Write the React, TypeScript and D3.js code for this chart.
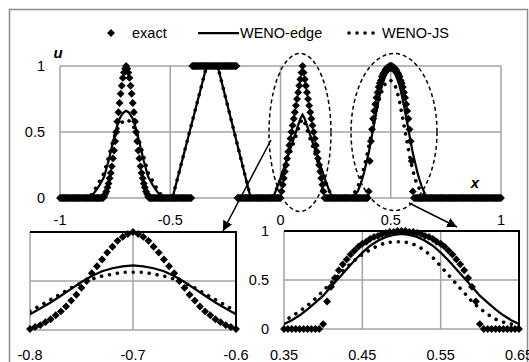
import * as d3 from "d3";

// exact solution, sampled every 0.005 from x = -1 to x = 1 (401 points)
const exactX0 = -1;
const exactStep = 0.005;
const exactU = [
  // -1 .. -0.805
  0, 0, 0, 0, 0, 0, 0, 0, 0, 0,
  0, 0, 0, 0, 0, 0, 0, 0, 0, 0,
  0, 0, 0, 0, 0, 0, 0, 0, 0, 0,
  0, 0, 0, 0, 0, 0, 0, 0, 0, 0,
  // gaussian -0.8 .. -0.6
  0.01, 0.03, 0.05, 0.08, 0.11, 0.15, 0.19, 0.24, 0.3, 0.36,
  0.43, 0.5, 0.58, 0.65, 0.72, 0.79, 0.85, 0.91, 0.95, 0.98,
  1,
  0.98, 0.95, 0.91, 0.85, 0.79, 0.72, 0.65, 0.58, 0.5, 0.43,
  0.36, 0.3, 0.24, 0.19, 0.15, 0.11, 0.08, 0.05, 0.03, 0.01,
  // -0.595 .. -0.405
  0, 0, 0, 0, 0, 0, 0, 0, 0, 0,
  0, 0, 0, 0, 0, 0, 0, 0, 0, 0,
  0, 0, 0, 0, 0, 0, 0, 0, 0, 0,
  0, 0, 0, 0, 0, 0, 0, 0, 0,
  // square -0.4 .. -0.2
  1, 1, 1, 1, 1, 1, 1, 1, 1, 1,
  1, 1, 1, 1, 1, 1, 1, 1, 1, 1,
  1,
  1, 1, 1, 1, 1, 1, 1, 1, 1, 1,
  1, 1, 1, 1, 1, 1, 1, 1, 1, 1,
  // -0.195 .. -0.005
  0, 0, 0, 0, 0, 0, 0, 0, 0, 0,
  0, 0, 0, 0, 0, 0, 0, 0, 0, 0,
  0, 0, 0, 0, 0, 0, 0, 0, 0, 0,
  0, 0, 0, 0, 0, 0, 0, 0, 0,
  // triangle 0 .. 0.2
  0, 0.05, 0.1, 0.15, 0.2, 0.25, 0.3, 0.35, 0.4, 0.45,
  0.5, 0.55, 0.6, 0.65, 0.7, 0.75, 0.8, 0.85, 0.9, 0.95,
  1,
  0.95, 0.9, 0.85, 0.8, 0.75, 0.7, 0.65, 0.6, 0.55, 0.5,
  0.45, 0.4, 0.35, 0.3, 0.25, 0.2, 0.15, 0.1, 0.05, 0,
  // 0.205 .. 0.395
  0, 0, 0, 0, 0, 0, 0, 0, 0, 0,
  0, 0, 0, 0, 0, 0, 0, 0, 0, 0,
  0, 0, 0, 0, 0, 0, 0, 0, 0, 0,
  0, 0, 0, 0, 0, 0, 0, 0, 0,
  // ellipse 0.4 .. 0.6
  0.05, 0.28, 0.43, 0.52, 0.6, 0.66, 0.71, 0.76, 0.8, 0.84,
  0.87, 0.89, 0.92, 0.94, 0.95, 0.97, 0.98, 0.99, 0.99, 1,
  1,
  1, 0.99, 0.99, 0.98, 0.97, 0.95, 0.94, 0.92, 0.89, 0.87,
  0.84, 0.8, 0.76, 0.71, 0.66, 0.6, 0.52, 0.43, 0.28, 0.05,
  // 0.605 .. 1
  0, 0, 0, 0, 0, 0, 0, 0, 0, 0,
  0, 0, 0, 0, 0, 0, 0, 0, 0, 0,
  0, 0, 0, 0, 0, 0, 0, 0, 0, 0,
  0, 0, 0, 0, 0, 0, 0, 0, 0, 0,
  0, 0, 0, 0, 0, 0, 0, 0, 0, 0,
  0, 0, 0, 0, 0, 0, 0, 0, 0, 0,
  0, 0, 0, 0, 0, 0, 0, 0, 0, 0,
  0, 0, 0, 0, 0, 0, 0, 0, 0, 0,
];

const wenoEdgeX = [
  -1, -0.88, -0.86, -0.84, -0.82, -0.8, -0.79, -0.78, -0.77, -0.76, -0.75, -0.74, -0.73, -0.72, -0.71,
  -0.7, -0.69, -0.68, -0.67, -0.66, -0.65, -0.64, -0.63, -0.62, -0.61, -0.6, -0.58, -0.56, -0.54, -0.52,
  -0.49, -0.335, -0.285, -0.135,
  -0.04, -0.03, -0.02, 0, 0.02, 0.04, 0.06, 0.08, 0.09, 0.1, 0.11, 0.12, 0.14, 0.16, 0.18, 0.2, 0.22, 0.23, 0.24,
  0.32, 0.33, 0.34, 0.35, 0.36, 0.37, 0.38, 0.39, 0.4, 0.41, 0.42, 0.43, 0.44, 0.45, 0.46, 0.47, 0.48, 0.49,
  0.5, 0.51, 0.52, 0.53, 0.54, 0.55, 0.56, 0.57, 0.58, 0.59, 0.6, 0.61, 0.62, 0.63, 0.64, 0.65, 0.66, 0.67, 1,
];
const wenoEdgeU = [
  0, 0, 0.01, 0.05, 0.1, 0.16, 0.22, 0.28, 0.35, 0.42, 0.49, 0.55, 0.6, 0.63, 0.65,
  0.66, 0.65, 0.63, 0.6, 0.55, 0.49, 0.42, 0.35, 0.28, 0.22, 0.16, 0.1, 0.05, 0.01, 0,
  0, 1, 1, 0,
  0, 0.02, 0.06, 0.15, 0.25, 0.35, 0.45, 0.55, 0.6, 0.63, 0.6, 0.55, 0.45, 0.35, 0.25, 0.15, 0.06, 0.02, 0,
  0, 0.01, 0.03, 0.05, 0.09, 0.14, 0.2, 0.27, 0.34, 0.43, 0.52, 0.61, 0.7, 0.78, 0.85, 0.9, 0.94, 0.96,
  0.97, 0.96, 0.94, 0.9, 0.85, 0.78, 0.7, 0.61, 0.52, 0.43, 0.34, 0.27, 0.2, 0.14, 0.09, 0.05, 0.01, 0, 0,
];

const wenoJsX = [
  -1, -0.88, -0.86, -0.84, -0.82, -0.8, -0.79, -0.78, -0.77, -0.76, -0.75, -0.74, -0.73, -0.72, -0.71,
  -0.7, -0.69, -0.68, -0.67, -0.66, -0.65, -0.64, -0.63, -0.62, -0.61, -0.6, -0.58, -0.56, -0.54, -0.52,
  -0.49, -0.335, -0.285, -0.135,
  -0.04, -0.03, -0.02, 0, 0.02, 0.04, 0.06, 0.08, 0.09, 0.1, 0.11, 0.12, 0.14, 0.16, 0.18, 0.2, 0.22, 0.23, 0.24,
  0.31, 0.32, 0.33, 0.34, 0.35, 0.36, 0.37, 0.38, 0.39, 0.4, 0.41, 0.42, 0.43, 0.44, 0.45, 0.46, 0.47, 0.48, 0.49,
  0.5, 0.51, 0.52, 0.53, 0.54, 0.55, 0.56, 0.57, 0.58, 0.59, 0.6, 0.61, 0.62, 0.63, 0.64, 0.65, 0.66, 0.67, 0.68, 1,
];
const wenoJsU = [
  0, 0, 0.02, 0.07, 0.13, 0.19, 0.25, 0.31, 0.37, 0.43, 0.48, 0.52, 0.55, 0.57, 0.59,
  0.59, 0.59, 0.57, 0.55, 0.52, 0.48, 0.43, 0.37, 0.31, 0.25, 0.19, 0.13, 0.07, 0.02, 0,
  0, 1, 1, 0,
  0, 0.02, 0.06, 0.14, 0.23, 0.32, 0.42, 0.52, 0.57, 0.6, 0.57, 0.52, 0.42, 0.32, 0.23, 0.14, 0.06, 0.02, 0,
  0, 0.01, 0.03, 0.05, 0.08, 0.13, 0.18, 0.24, 0.31, 0.39, 0.47, 0.55, 0.63, 0.7, 0.76, 0.81, 0.85, 0.88, 0.89,
  0.89, 0.88, 0.85, 0.8, 0.73, 0.64, 0.55, 0.46, 0.37, 0.28, 0.21, 0.15, 0.1, 0.07, 0.05, 0.03, 0.02, 0.01, 0, 0,
];

const mainXTicks = [-1, -0.5, 0, 0.5, 1];
const mainYTicks = [0, 0.5, 1];
const leftXTicks = [-0.8, -0.7, -0.6];
const rightXTicks = [0.35, 0.45, 0.55, 0.65];
const insetYTicks = [0, 0.5, 1];
const legendLabels = ["exact", "WENO-edge", "WENO-JS"];

const W = 529;
const H = 362;
const FONT = "'Liberation Sans', Arial, sans-serif";
const GRID = "#a3a3a3";

const diamondPath = d3.symbol().type(d3.symbolSquare).size(31)() as string;

type Scale = d3.ScaleLinear<number, number>;

function Panel({ id, x, y, xTicks, yTicks, showYLabels, xLabelDy, framed }: {
  id: string; x: Scale; y: Scale; xTicks: number[]; yTicks: number[];
  showYLabels: boolean; xLabelDy: number; framed: boolean;
}) {
  const [d0, d1] = x.domain();
  const [left, right] = x.range();
  const [bottom, top] = y.range();
  const eps = 1e-9;
  const exactPts = exactU
    .map((u, i) => ({ x: exactX0 + i * exactStep, u }))
    .filter((p) => p.x >= d0 - eps && p.x <= d1 + eps);
  const line = d3.line<[number, number]>().x((d) => x(d[0])).y((d) => y(d[1]));
  const edge = wenoEdgeX.map((v, i) => [v, wenoEdgeU[i]] as [number, number]);
  const js = wenoJsX.map((v, i) => [v, wenoJsU[i]] as [number, number]);

  return (
    <g>
      <defs>
        <clipPath id={id}>
          <rect x={left} y={top - 6} width={right - left} height={bottom - top + 6} />
        </clipPath>
      </defs>
      {yTicks.map((t) => (
        <line key={"gy" + t} x1={left} x2={right} y1={y(t)} y2={y(t)} stroke={GRID} strokeWidth={1.5} />
      ))}
      {xTicks.map((t) => (
        <line key={"gx" + t} x1={x(t)} x2={x(t)} y1={top} y2={bottom} stroke={GRID} strokeWidth={1.5} />
      ))}
      {framed && (
        <path d={`M${left},${top}H${right}V${bottom}`} fill="none" stroke="#000" strokeWidth={2} />
      )}
      {xTicks.map((t) => (
        <text key={"lx" + t} x={x(t)} y={bottom + xLabelDy} textAnchor="middle" fontSize={14.5} fontFamily={FONT}>
          {String(t)}
        </text>
      ))}
      {showYLabels && yTicks.map((t) => (
        <text key={"ly" + t} x={left - 15} y={y(t) + 5} textAnchor="end" fontSize={14.5} fontFamily={FONT}>
          {String(t)}
        </text>
      ))}
      {exactPts.map((p, i) => (
        <path key={i} d={diamondPath} transform={`translate(${x(p.x)},${y(p.u)}) rotate(45)`} fill="#000" />
      ))}
      <g clipPath={`url(#${id})`}>
        <path d={line(edge) as string} fill="none" stroke="#000" strokeWidth={2.25} />
        <path d={line(js) as string} fill="none" stroke="#000" strokeWidth={3.6}
          strokeDasharray="0.01 8" strokeLinecap="round" />
      </g>
    </g>
  );
}

export default function App() {
  const xMain = d3.scaleLinear().domain([-1, 1]).range([60, 501]);
  const yMain = d3.scaleLinear().domain([0, 1]).range([198, 66]);
  const xLeft = d3.scaleLinear().domain([-0.8, -0.6]).range([30, 236]);
  const yLeft = d3.scaleLinear().domain([0, 1]).range([330, 232]);
  const xRight = d3.scaleLinear().domain([0.35, 0.65]).range([284, 519]);
  const yRight = d3.scaleLinear().domain([0, 1]).range([329, 231]);

  return (
    <svg width={W} height={H} style={{ position: "absolute", left: 0, top: 0, background: "#fff" }}>
      <defs>
        <marker id="arrow" viewBox="0 0 10 10" refX={10} refY={5} markerWidth={10} markerHeight={10}
          markerUnits="userSpaceOnUse" orient="auto">
          <path d="M0,0L10,5L0,10Z" fill="#000" />
        </marker>
      </defs>
      <rect x={9.5} y={9.5} width={518} height={370} fill="none" stroke="#8c8c8c" strokeWidth={1.5} />

      {/* legend */}
      <path d={diamondPath} transform="translate(111,33) rotate(45)" fill="#000" />
      <text x={132} y={38} fontSize={14.5} fontFamily={FONT}>{legendLabels[0]}</text>
      <line x1={198} x2={239} y1={33} y2={33} stroke="#000" strokeWidth={2.25} />
      <text x={240} y={38} fontSize={14.5} fontFamily={FONT}>{legendLabels[1]}</text>
      <line x1={349} x2={381} y1={33} y2={33} stroke="#000" strokeWidth={3.6}
        strokeDasharray="0.01 8" strokeLinecap="round" />
      <text x={382} y={38} fontSize={14.5} fontFamily={FONT}>{legendLabels[2]}</text>

      <Panel id="clipMain" x={xMain} y={yMain} xTicks={mainXTicks} yTicks={mainYTicks}
        showYLabels xLabelDy={27} framed={false} />
      <text x={58} y={58} textAnchor="middle" fontSize={15} fontWeight="bold" fontStyle="italic" fontFamily={FONT}>u</text>
      <text x={475} y={188} textAnchor="middle" fontSize={15} fontWeight="bold" fontStyle="italic" fontFamily={FONT}>x</text>

      {/* zoom markers */}
      <ellipse cx={300} cy={132.5} rx={31} ry={79} fill="none" stroke="#000" strokeWidth={1.5} strokeDasharray="4 3" />
      <ellipse cx={394} cy={132} rx={43} ry={78.5} fill="none" stroke="#000" strokeWidth={1.5} strokeDasharray="4 3" />
      <line x1={271} y1={140} x2={223} y2={231} stroke="#000" strokeWidth={1.5} markerEnd="url(#arrow)" />
      <line x1={409} y1={203} x2={457} y2={227} stroke="#000" strokeWidth={1.5} markerEnd="url(#arrow)" />

      <Panel id="clipLeft" x={xLeft} y={yLeft} xTicks={leftXTicks} yTicks={insetYTicks}
        showYLabels={false} xLabelDy={30} framed />
      <Panel id="clipRight" x={xRight} y={yRight} xTicks={rightXTicks} yTicks={insetYTicks}
        showYLabels xLabelDy={31} framed />
    </svg>
  );
}
